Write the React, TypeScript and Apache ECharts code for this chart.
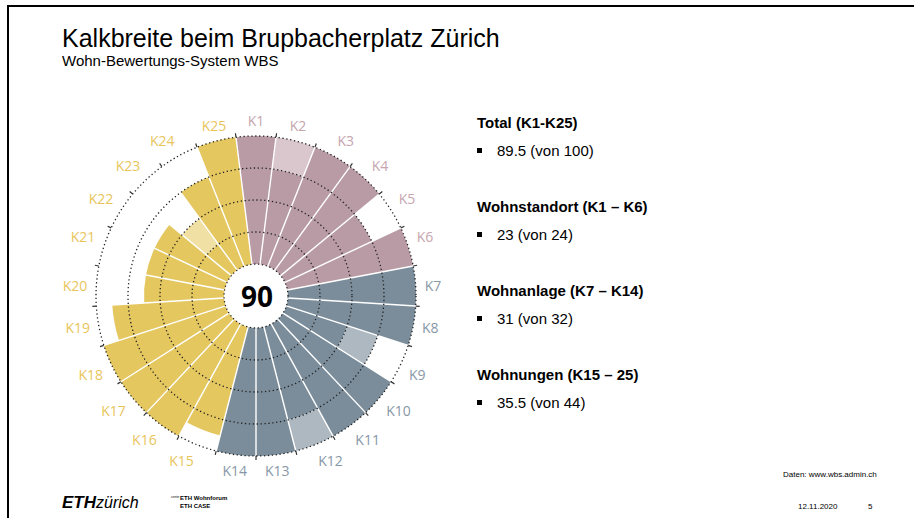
import React, { useEffect, useRef } from 'react';
import * as echarts from 'echarts';

const categories = ['K1','K2','K3','K4','K5','K6','K7','K8','K9','K10','K11','K12','K13','K14','K15','K16','K17','K18','K19','K20','K21','K22','K23','K24','K25'];
const categoryGroups = ['S','S','S','S','S','S','A','A','A','A','A','A','A','A','W','W','W','W','W','W','W','W','W','W','W'];
const scoreValues = [4, 3, 4, 4, 3, 4, 4, 4, 2, 4, 4, 3, 4, 4, 3.5, 4, 4, 4, 3.5, 2.5, 2.5, 2.5, 1, 3, 4];
const partialValues = [0, 1, 0, 0, 0, 0, 0, 0, 1, 0, 0, 1, 0, 0, 0, 0, 0, 0, 0, 0, 0, 0, 1, 0, 0];
const levelPositions = [0.5, 1.5, 2.5, 3.5];
const levelLabels = ['1', '2', '3', '4'];
const centerScore = '90';
const summaryTitles = ['Total (K1-K25)', 'Wohnstandort (K1 \u2013 K6)', 'Wohnanlage (K7 \u2013 K14)', 'Wohnungen (K15 \u2013 25)'];
const summaryValues = ['89.5 (von 100)', '23 (von 24)', '31 (von 32)', '35.5 (von 44)'];

const groupColors: Record<string, { dark: string; light: string; label: string }> = {
  S: { dark: '#b99ba5', light: '#d9c7cd', label: '#c6a5af' },
  A: { dark: '#7b8d9b', light: '#aeb8c1', label: '#8898a7' },
  W: { dark: '#e5c760', light: '#f1e0a4', label: '#e8c55c' },
};

const SANS = 'Liberation Sans, Arial, sans-serif';
const CHART_FONT = 'Open Sans, sans-serif';

export default function App() {
  const ref = useRef<HTMLDivElement>(null);
  useEffect(() => {
    if (!ref.current) return;
    const chart = echarts.init(ref.current, undefined, { renderer: 'svg' });

    const summaryGraphics: any[] = [];
    const startY = 122;
    summaryTitles.forEach((t, i) => {
      const y = startY + i * 84;
      summaryGraphics.push({
        type: 'text', x: 477, y, silent: true,
        style: { text: t, fontFamily: SANS, fontSize: 15, fontWeight: 'bold', fill: '#000', verticalAlign: 'middle', align: 'left' },
      });
      summaryGraphics.push({
        type: 'rect', silent: true, shape: { x: 477, y: y + 26, width: 5, height: 5 }, style: { fill: '#000' },
      });
      summaryGraphics.push({
        type: 'text', x: 497, y: y + 28, silent: true,
        style: { text: summaryValues[i], fontFamily: SANS, fontSize: 15, fill: '#000', verticalAlign: 'middle', align: 'left' },
      });
    });

    chart.setOption({
      animation: false,
      backgroundColor: '#fff',
      polar: { center: [256, 296], radius: [32, 160] },
      angleAxis: {
        type: 'category',
        data: categories.map((c, i) => ({ value: c, textStyle: { color: groupColors[categoryGroups[i]].label } })),
        startAngle: 90 + 180 / categories.length,
        clockwise: true,
        boundaryGap: true,
        z: 3,
        axisLine: { show: true, lineStyle: { color: '#222', width: 1.3, type: [1.3, 2.6] } },
        axisTick: { show: true, length: 4, lineStyle: { color: '#333', width: 1.2 } },
        axisLabel: {
          margin: 9,
          fontSize: 14,
          fontFamily: CHART_FONT,
        },
        splitLine: { show: true, lineStyle: { color: '#ffffff', width: 1.4 } },
      },
      radiusAxis: {
        type: 'value',
        min: 0,
        max: 4,
        interval: 1,
        z: 4,
        axisLine: { show: false },
        axisTick: { show: false },
        axisLabel: { show: false },
        splitLine: {
          show: true,
          lineStyle: {
            color: ['rgba(0,0,0,0)', '#222', '#222', '#222', 'rgba(0,0,0,0)'],
            width: 1.3,
            type: [1.3, 2.6],
          },
        },
      },
      series: [
        {
          type: 'bar', coordinateSystem: 'polar', stack: 'score', barCategoryGap: '0%', z: 2,
          data: scoreValues.map((v, i) => ({ value: v, itemStyle: { color: groupColors[categoryGroups[i]].dark } })),
        },
        {
          type: 'bar', coordinateSystem: 'polar', stack: 'score', barCategoryGap: '0%', z: 2,
          data: partialValues.map((v, i) => ({ value: v, itemStyle: { color: groupColors[categoryGroups[i]].light } })),
        },
        {
          type: 'scatter', coordinateSystem: 'polar', symbolSize: 1, z: 10,
          itemStyle: { opacity: 0 },
          data: levelPositions.map((r) => [r, categories[0]]),
          label: {
            show: true, position: 'inside',
            formatter: (p: any) => levelLabels[p.dataIndex],
            fontSize: 13, color: '#1a1a1a', fontFamily: CHART_FONT,
          },
        },
      ],
      graphic: [
        { type: 'rect', silent: true, shape: { x: 8, y: 6, width: 1000, height: 600 }, style: { fill: 'none', stroke: '#000', lineWidth: 2 } },
        { type: 'text', x: 62, y: 38, silent: true, style: { text: 'Kalkbreite beim Brupbacherplatz Z\u00fcrich', fontFamily: SANS, fontSize: 25, fill: '#000', verticalAlign: 'middle' } },
        { type: 'text', x: 62, y: 60, silent: true, style: { text: 'Wohn-Bewertungs-System WBS', fontFamily: SANS, fontSize: 15, fill: '#000', verticalAlign: 'middle' } },
        { type: 'text', x: 257, y: 296, silent: true, z: 20, style: { text: centerScore, fontFamily: CHART_FONT, fontSize: 28, fontWeight: 'bold', fill: '#000', align: 'center', verticalAlign: 'middle' } },
        ...summaryGraphics,
        { type: 'text', x: 783, y: 474, silent: true, style: { text: 'Daten: www.wbs.admin.ch', fontFamily: SANS, fontSize: 8, fill: '#000', verticalAlign: 'middle' } },
        { type: 'text', x: 798, y: 506, silent: true, style: { text: '12.11.2020', fontFamily: SANS, fontSize: 8, fill: '#000', verticalAlign: 'middle' } },
        { type: 'text', x: 868, y: 506, silent: true, style: { text: '5', fontFamily: SANS, fontSize: 8, fill: '#000', verticalAlign: 'middle' } },
        { type: 'text', x: 62, y: 502, silent: true, style: { text: 'ETH', fontFamily: SANS, fontSize: 17, fontWeight: 'bold', fontStyle: 'italic', fill: '#000', verticalAlign: 'middle' } },
        { type: 'text', x: 96, y: 502, silent: true, style: { text: 'z\u00fcrich', fontFamily: SANS, fontSize: 16, fontStyle: 'italic', fill: '#000', verticalAlign: 'middle' } },
        { type: 'text', x: 171, y: 497, silent: true, style: { text: 'center', fontFamily: SANS, fontSize: 3, fill: '#000', verticalAlign: 'middle' } },
        { type: 'text', x: 180, y: 498, silent: true, style: { text: 'ETH Wohnforum', fontFamily: SANS, fontSize: 6, fontWeight: 'bold', fill: '#000', verticalAlign: 'middle' } },
        { type: 'text', x: 180, y: 506, silent: true, style: { text: 'ETH CASE', fontFamily: SANS, fontSize: 6, fontWeight: 'bold', fill: '#000', verticalAlign: 'middle' } },
      ],
    });
    return () => chart.dispose();
  }, []);
  return <div ref={ref} style={{ position: 'absolute', left: 0, top: 0, width: 914, height: 518, background: '#fff' }} />;
}
